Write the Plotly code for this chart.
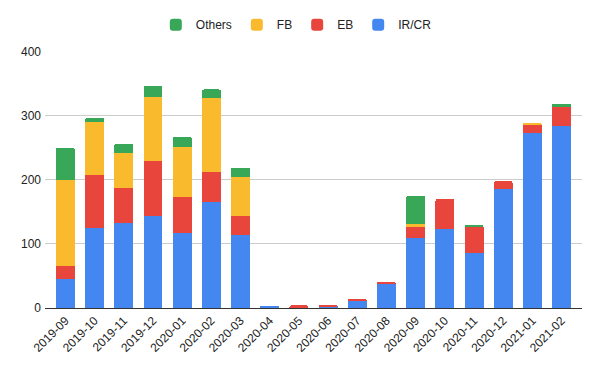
import plotly.graph_objects as go

months = ["2019-09", "2019-10", "2019-11", "2019-12", "2020-01", "2020-02", "2020-03",
          "2020-04", "2020-05", "2020-06", "2020-07", "2020-08", "2020-09", "2020-10",
          "2020-11", "2020-12", "2021-01", "2021-02"]
ir_cr = [46, 125, 133, 144, 117, 166, 114, 2, 0, 2, 11, 38, 110, 123, 86, 186, 273, 284]
eb = [20, 83, 54, 85, 56, 46, 30, 0, 4, 2, 3, 2, 16, 47, 40, 12, 14, 29]
fb = [134, 82, 55, 101, 78, 115, 61, 0, 0, 0, 0, 0, 5, 0, 0, 0, 2, 0]
others = [50, 7, 14, 17, 16, 14, 14, 0, 0, 0, 0, 0, 44, 0, 4, 0, 0, 6]
y_ticks = [0, 100, 200, 300, 400]

series = [("IR/CR", ir_cr, "#4487F1"), ("EB", eb, "#E8463C"),
          ("FB", fb, "#F9BB2D"), ("Others", others, "#38A757")]

fig = go.Figure()
for name, vals, color in series:
    fig.add_trace(go.Bar(x=months, y=vals, name=name, marker_color=color,
                         marker_line_width=0))

fig.update_layout(
    barmode="stack",
    bargap=0.35,
    barcornerradius=2,
    width=600, height=371,
    margin=dict(l=37, r=26, t=43, b=71),
    plot_bgcolor="white", paper_bgcolor="white",
    font=dict(family="Liberation Sans, Arial, sans-serif", size=12, color="#222222"),
    legend=dict(orientation="h", traceorder="reversed", x=0.468, xanchor="center",
                y=0.955, yanchor="middle", yref="container", font=dict(size=12),
                itemwidth=30),
    showlegend=True,
)
fig.update_xaxes(type="category", tickangle=-45, showgrid=False, showline=True,
                 linecolor="#333333", linewidth=1, ticks="", automargin=False,
                 tickfont=dict(size=12, color="#222222"), range=[-0.7, 17.7])
fig.update_yaxes(range=[0, 401], tickvals=y_ticks, showgrid=True, gridcolor="#cccccc",
                 zeroline=True, zerolinecolor="#333333", zerolinewidth=1, ticks="",
                 automargin=False, tickfont=dict(size=12, color="#222222"),
                 ticklabelstandoff=3)

fig.write_html("out.html")
